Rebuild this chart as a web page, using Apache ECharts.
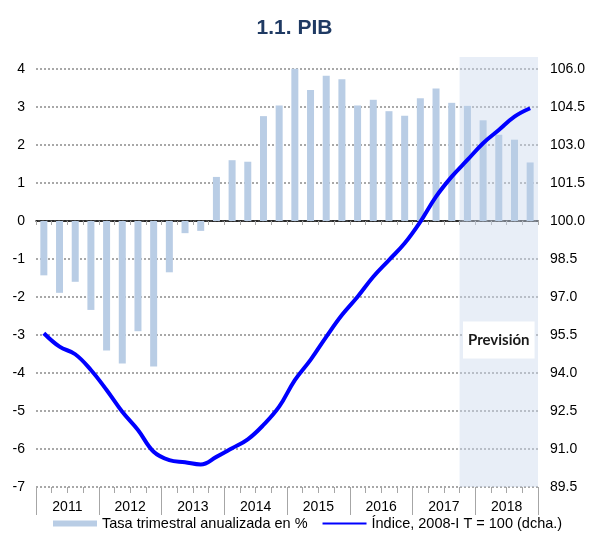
<!DOCTYPE html>
<html>
<head>
<meta charset="utf-8">
<script src="https://cdn.jsdelivr.net/npm/echarts@6/dist/echarts.min.js"></script>
<style>
html, body { margin: 0; padding: 0; background: #fff; }
#pibChart { width: 589px; height: 541px; }
</style>
</head>
<body>
<div id="pibChart"></div>
<script>
// años y trimestres
const years = ['2011', '2012', '2013', '2014', '2015', '2016', '2017', '2018'];
const quarters = years.flatMap(y => ['I', 'II', 'III', 'IV'].map(q => y + '-' + q));

// tasa trimestral anualizada (%), eje izquierdo
const tasaTrimestral = [
    -1.43, -1.89, -1.60, -2.34,
    -3.41, -3.75, -2.90, -3.83,
    -1.35, -0.32, -0.26, 1.16,
    1.60, 1.56, 2.76, 3.04,
    4.01, 3.45, 3.82, 3.73,
    3.04, 3.19, 2.89, 2.77,
    3.23, 3.49, 3.11, 3.03,
    2.65, 2.27, 2.14, 1.54
];

// índice 2008-I T = 100, eje derecho
const indice = [
    95.57, 95.04, 94.74, 94.12,
    93.33, 92.47, 91.75, 90.89,
    90.56, 90.48, 90.39, 90.69,
    91.03, 91.38, 91.95, 92.67,
    93.72, 94.52, 95.43, 96.29,
    97.01, 97.80, 98.46, 99.12,
    99.97, 100.96, 101.75, 102.41,
    103.07, 103.59, 104.12, 104.45
];

// escalas de los ejes
const leftAxis = { min: -7, max: 4, interval: 1 };
const rightAxis = { min: 89.5, max: 106, interval: 1.5 };
const topPad = 0.316; // hueco sobre la última línea (sombreado de previsión)

// periodo de previsión (índices de categoría)
const prevision = [26.5, 31.5];

function initChart() {
    const chartDom = document.getElementById('pibChart');
    const myChart = echarts.init(chartDom);
    const gridDot = { color: '#8c8c8c', width: 1.5, type: [2, 2] };
    const tickGray = '#a6a6a6';
    const font = 'Liberation Sans, Arial, sans-serif';
    const ratio = rightAxis.interval / leftAxis.interval;

    myChart.setOption({
        animation: false,
        title: {
            text: '1.1. PIB', left: 'center', top: 13,
            textStyle: { fontFamily: font, fontSize: 21, fontWeight: 'bold', color: '#1f3a63' }
        },
        legend: {
            left: 53, top: 516, padding: 0, itemGap: 14, itemWidth: 44, itemHeight: 6,
            textStyle: { fontFamily: font, fontSize: 14.5, color: '#000' },
            data: [
                { name: 'Tasa trimestral anualizada en %', icon: 'rect' },
                { name: 'Índice, 2008-I T = 100 (dcha.)', itemStyle: { opacity: 0 } }
            ]
        },
        grid: { left: 36, right: 51, top: 57, bottom: 54 },
        xAxis: [
            {   // eje en cero con marcas trimestrales
                type: 'category', data: quarters, position: 'bottom',
                axisLine: { onZero: true, lineStyle: { color: '#000', width: 1.5 } },
                axisTick: { show: true, interval: 0, length: 4, lineStyle: { color: tickGray } },
                axisLabel: { show: false }, splitLine: { show: false }
            },
            {   // años abajo
                type: 'category', data: years, position: 'bottom',
                axisLine: { show: false, onZero: false },
                axisTick: { show: true, interval: 0, length: 28, lineStyle: { color: tickGray } },
                axisLabel: { fontFamily: font, fontSize: 14, color: '#000', margin: 13 },
                splitLine: { show: false }
            },
            {   // marcas trimestrales abajo
                type: 'category', data: quarters, position: 'bottom',
                axisLine: { show: false, onZero: false },
                axisTick: { show: true, interval: 0, length: 6, lineStyle: { color: tickGray } },
                axisLabel: { show: false }, splitLine: { show: false }
            }
        ],
        yAxis: [
            {
                type: 'value', min: leftAxis.min, max: leftAxis.max + topPad, interval: leftAxis.interval,
                axisLine: { show: false },
                axisTick: { show: false },
                axisLabel: { fontFamily: font, fontSize: 14, color: '#000', margin: 11,
                    showMaxLabel: false },
                splitLine: { show: true, showMaxLine: false, lineStyle: gridDot }
            },
            {
                type: 'value', position: 'right',
                min: rightAxis.min, max: rightAxis.max + topPad * ratio, interval: rightAxis.interval,
                axisLine: { show: false }, axisTick: { show: false },
                axisLabel: { fontFamily: font, fontSize: 14, color: '#000', margin: 12,
                    showMaxLabel: false, formatter: v => v.toFixed(1) },
                splitLine: { show: false }
            }
        ],
        series: [
            {
                name: 'Tasa trimestral anualizada en %', type: 'bar',
                xAxisIndex: 0, yAxisIndex: 0, data: tasaTrimestral,
                barWidth: 7,
                itemStyle: { color: '#b9cde5' },
                markArea: {
                    silent: true,
                    itemStyle: { color: 'rgba(205, 218, 238, 0.45)' },
                    label: {
                        show: true, position: 'inside', offset: [0, 68],
                        formatter: 'Previsión',
                        fontFamily: 'Lato, sans-serif', fontSize: 15, fontWeight: 'bold', color: '#1a1a1a',
                        backgroundColor: '#fff', padding: [11, 5]
                    },
                    data: [[
                        { name: 'Previsión', xAxis: prevision[0] },
                        { xAxis: prevision[1] }
                    ]]
                }
            },
            {
                name: 'Índice, 2008-I T = 100 (dcha.)', type: 'line',
                xAxisIndex: 0, yAxisIndex: 1, data: indice,
                smooth: 0.4, symbol: 'none',
                lineStyle: { color: '#0000ff', width: 4 },
                itemStyle: { color: '#0000ff' },
                z: 5
            }
        ]
    });
}

document.addEventListener('DOMContentLoaded', initChart);
</script>
</body>
</html>
